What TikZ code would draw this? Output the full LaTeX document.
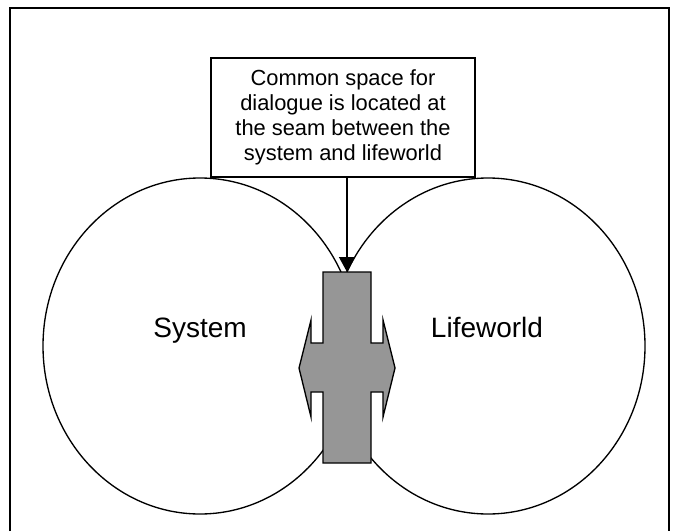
\documentclass[tikz,border=0pt]{standalone}
\usepackage{fontspec}
\setmainfont{Liberation Sans}
\usepackage{tikz}
\usetikzlibrary{arrows.meta,shapes.geometric,positioning}
\definecolor{seamgray}{RGB}{150,150,150}

\begin{document}
\begin{tikzpicture}[
x=0.75pt,y=-0.75pt,
world/.style={ellipse,draw,line width=1pt,minimum width=235.5pt,minimum height=252pt,inner sep=0pt},
bigtext/.style={font=\fontsize{21}{24}\selectfont,anchor=base},
notebox/.style={draw,line width=1pt,fill=white,minimum width=198pt,minimum height=89.25pt,align=center,font=\fontsize{16.4}{18.9}\selectfont,inner sep=0pt},
seamarrow/.style={-{Triangle[length=11.25pt,width=12pt]},line width=1pt}]
    \useasboundingbox (0,0) rectangle (673,531);
    % Frame
    \draw[line width=1.5pt] (9.5,531) |- (669,8) -- (669,531);

    % The two worlds
    \node[world] (sys) at (200,346) {};
    \node[world] (life) at (488,346) {};
    \node[bigtext] (systxt) at (200,337) {System};
    \node[bigtext] (lifetxt) at (487,337) {Lifeworld};

    % Seam
    \draw[line width=1pt,fill=seamgray] (323,272) -- (371,272) -- (371,343) -- (383,343)
        -- (383,320) -- (395,368) -- (383,417) -- (383,392) -- (371,392) -- (371,463)
        -- (323,463) -- (323,392) -- (311,392) -- (311,417) -- (299,368) -- (311,320)
        -- (311,343) -- (323,343) -- cycle;
    \coordinate (seam) at (347,272);

    \node[notebox] (note) at (343,117.5) {Common space for\\dialogue is located at\\the seam between the\\system and lifeworld};
    \draw[seamarrow] (note.south -| seam) -- (seam);

\end{tikzpicture}
\end{document}
